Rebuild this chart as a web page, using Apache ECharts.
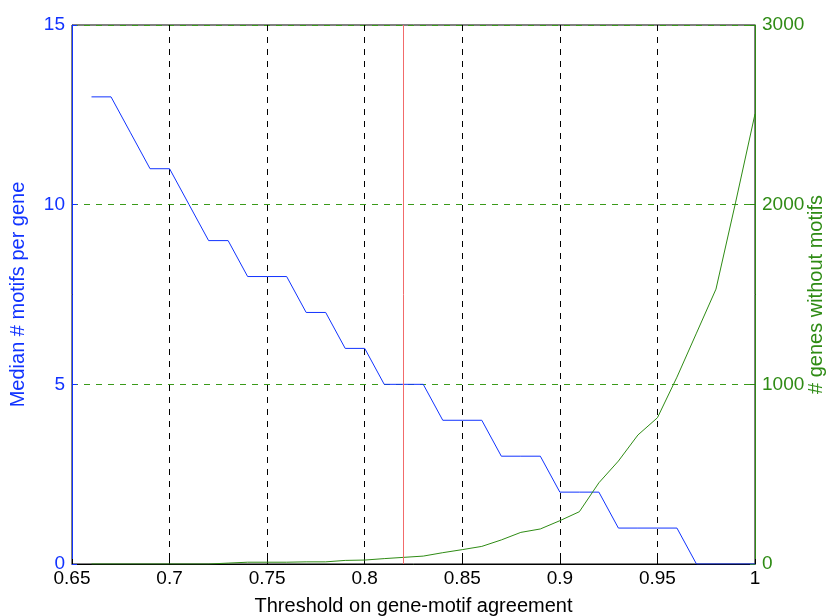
<!DOCTYPE html>
<html><head><meta charset="utf-8">
<script src="https://cdn.jsdelivr.net/npm/echarts@6/dist/echarts.min.js"></script>
<style>html,body{margin:0;padding:0;background:#fff}#c{width:828px;height:616px}</style>
</head><body><div id="c"></div>
<script>
const thresholds = [0.66,0.67,0.68,0.69,0.70,0.71,0.72,0.73,0.74,0.75,0.76,0.77,0.78,0.79,0.80,0.81,0.82,0.83,0.84,0.85,0.86,0.87,0.88,0.89,0.90,0.91,0.92,0.93,0.94,0.95,0.96,0.97,0.98,0.99,1.00];
const medianMotifs = [13,13,12,11,11,10,9,9,8,8,8,7,7,6,6,5,5,5,4,4,4,3,3,3,2,2,2,1,1,1,1,0,0,0,0];
const genesWithoutMotifs = [0,0,0,0,0,0,0,5,10,10,10,12,12,20,22,30,37,44,63,80,98,134,176,195,241,291,452,573,718,814,1040,1285,1530,2010,2505];
const chosenThreshold = 0.82;

const BLUE = '#1133ff', GREEN = '#2e8b14', RED = '#f26b6b';
const FONT = 'Liberation Sans';
const chart = echarts.init(document.getElementById('c'), null, {renderer:'canvas'});
chart.setOption({
  animation:false,
  backgroundColor:'#fff',
  grid:{left:72,right:73,top:25,bottom:52,show:true,borderColor:'#000',borderWidth:1,
        containLabel:false,outerBoundsMode:'none'},
  xAxis:{type:'value',min:0.65,max:1,interval:0.05,
    name:'Threshold on gene-motif agreement',nameLocation:'middle',nameGap:32,nameMoveOverlap:false,
    nameTextStyle:{color:'#000',fontFamily:FONT,fontSize:20},
    axisLine:{lineStyle:{color:'#000',width:1}},
    axisTick:{inside:true,length:5,lineStyle:{color:'#000'}},
    axisLabel:{color:'#000',fontFamily:FONT,fontSize:19,margin:5,formatter:v=>String(+v.toFixed(2))},
    splitLine:{show:true,lineStyle:{color:'#000',type:[6,6],width:1}}},
  yAxis:[
    {type:'value',min:0,max:15,interval:5,position:'left',
     name:'Median # motifs per gene',nameLocation:'middle',nameGap:44,nameRotate:90,nameMoveOverlap:false,
     nameTextStyle:{color:BLUE,fontFamily:FONT,fontSize:20},
     axisLine:{show:true,lineStyle:{color:BLUE,width:1}},
     axisTick:{show:true,inside:true,length:5,lineStyle:{color:BLUE}},
     axisLabel:{color:BLUE,fontFamily:FONT,fontSize:19,margin:7},
     splitLine:{show:false}},
    {type:'value',min:0,max:3000,interval:1000,position:'right',
     name:'# genes without motifs',nameLocation:'middle',nameGap:51,nameRotate:90,nameMoveOverlap:false,
     nameTextStyle:{color:GREEN,fontFamily:FONT,fontSize:20},
     axisLine:{show:true,lineStyle:{color:GREEN,width:1}},
     axisTick:{show:true,inside:true,length:5,lineStyle:{color:GREEN}},
     axisLabel:{color:GREEN,fontFamily:FONT,fontSize:19,margin:7,formatter:v=>String(v)},
     splitLine:{show:true,lineStyle:{color:'#3a9a1a',type:[6,6],width:1}}}
  ],
  series:[
    {type:'line',yAxisIndex:0,data:thresholds.map((x,i)=>[x,medianMotifs[i]]),
     showSymbol:false,lineStyle:{color:BLUE,width:1},itemStyle:{color:BLUE},z:3,
     markLine:{silent:true,symbol:'none',label:{show:false},emphasis:{disabled:true},
       itemStyle:{color:RED},
       lineStyle:{color:RED,type:'solid',width:1,opacity:1},
       data:[{xAxis:chosenThreshold,lineStyle:{color:RED},itemStyle:{color:RED}}]}},
    {type:'line',yAxisIndex:1,data:thresholds.map((x,i)=>[x,genesWithoutMotifs[i]]),
     showSymbol:false,lineStyle:{color:GREEN,width:1},itemStyle:{color:GREEN},z:3}
  ]
});
</script></body></html>
